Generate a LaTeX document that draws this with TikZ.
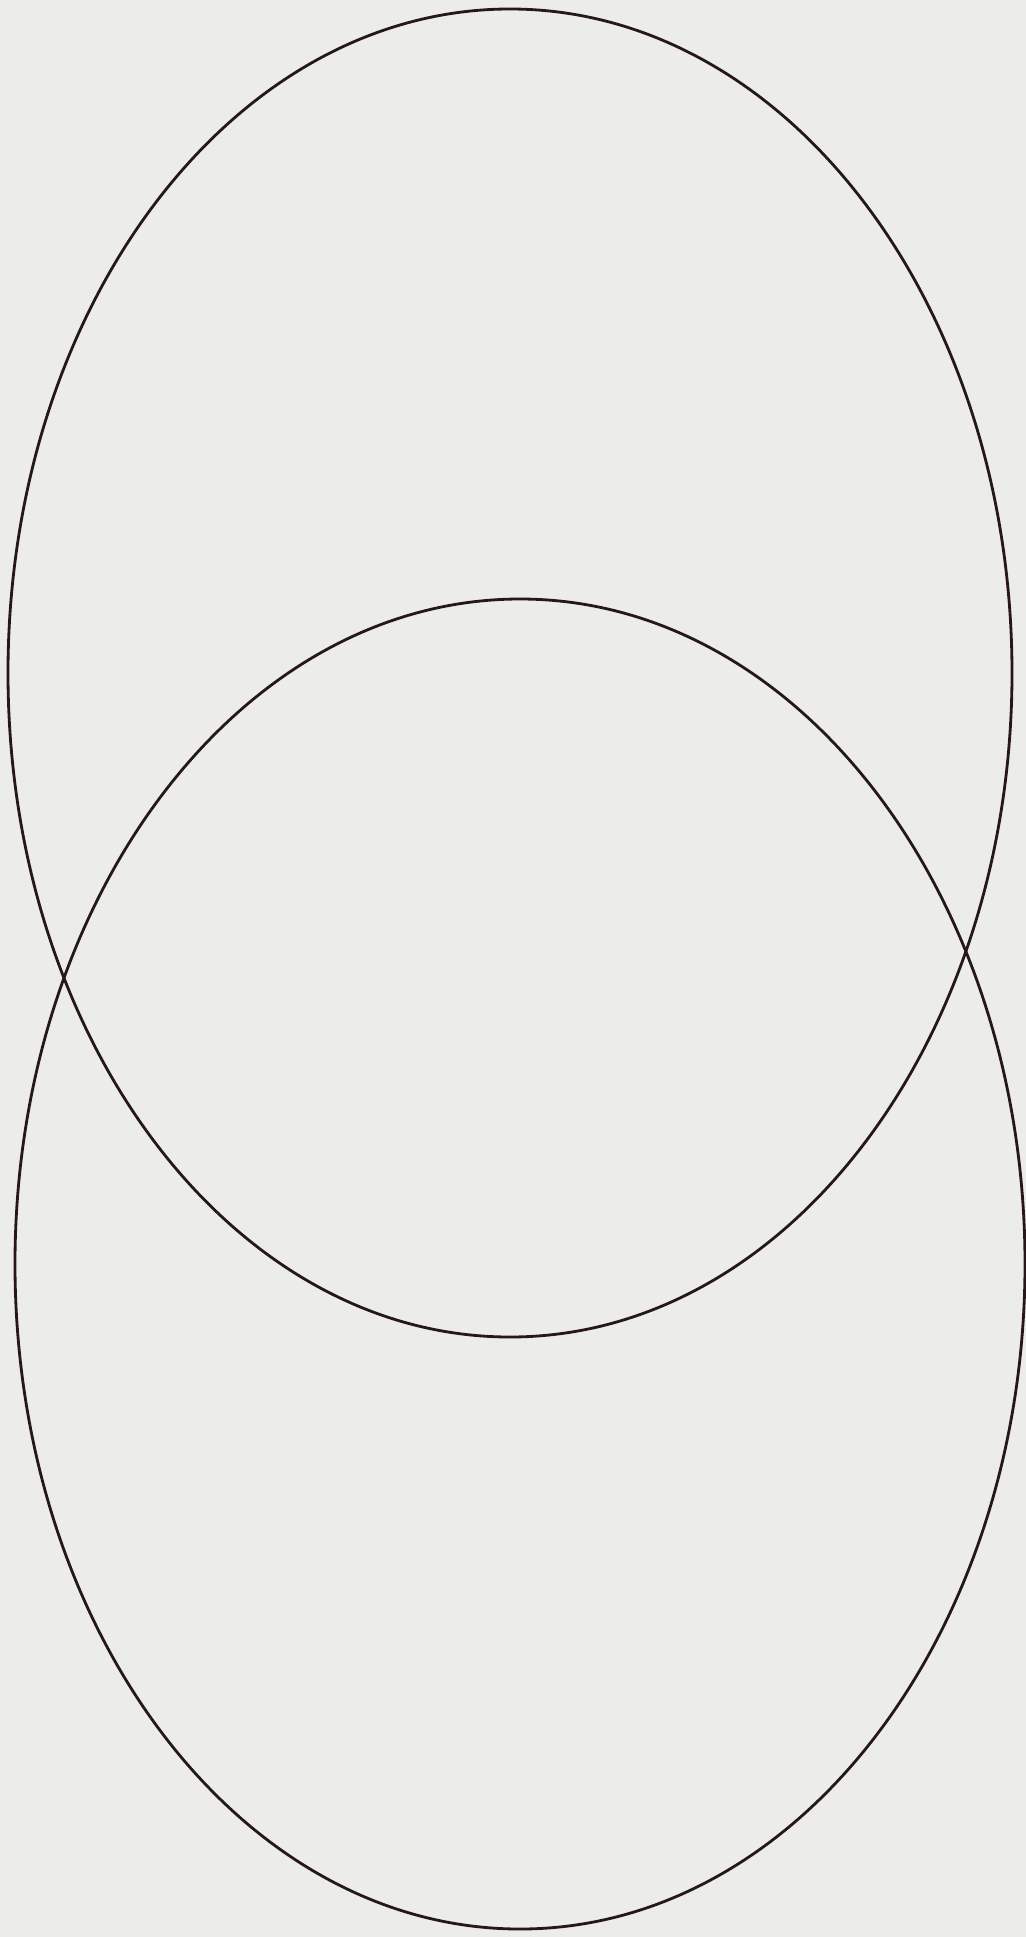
\documentclass[tikz,border=0pt]{standalone}
\usepackage{xcolor}
\usepackage{tikz}

\definecolor{paper}{RGB}{236,237,234}
\definecolor{ink}{RGB}{38,24,26}

\begin{document}
\begin{tikzpicture}[x=0.02cm,y=-0.02cm]
            \fill[paper] (0,0) rectangle (1026,1937);
            \useasboundingbox (0,0) rectangle (1026,1937);

            \draw[ink, line width=1.6pt] (510,673) ellipse (502 and 664);
            \draw[ink, line width=1.6pt] (520,1264) ellipse (505 and 665);
        \end{tikzpicture}
\end{document}
